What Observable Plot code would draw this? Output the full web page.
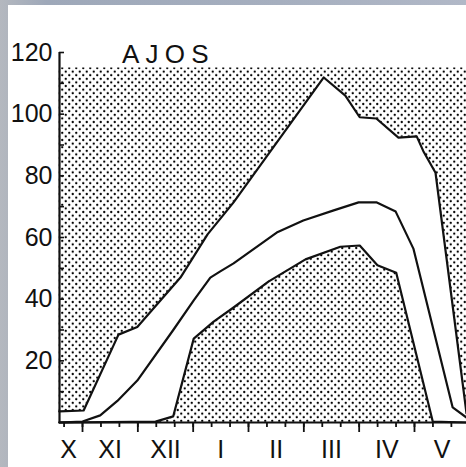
<!DOCTYPE html>
<html>
<head>
<meta charset="utf-8">
<script src="https://cdn.jsdelivr.net/npm/d3@7"></script>
<script src="https://cdn.jsdelivr.net/npm/@observablehq/plot@0.6"></script>
<style>
  html, body { margin: 0; padding: 0; }
  body {
    width: 466px; height: 467px; overflow: hidden; position: relative;
    background: linear-gradient(90deg, #b4b8bf 0%, #9ea8b9 10%, #a6afbf 60%, #b1b8c7 100%);
  }
  #card { position: absolute; left: 8px; top: 5px; width: 458px; height: 462px; background: #fff; }
  #title {
    position: absolute; left: 114px; top: 36px; line-height: 26px;
    font-family: "Liberation Sans", Arial, sans-serif; font-size: 26px; letter-spacing: 6.2px; color: #111;
  }
</style>
</head>
<body>
<div id="card"><div id="title">AJOS</div></div>
<script>
// x values are months counted from the start of October (X = 0)
const upperX = [0.58, 1.02, 1.65, 1.99, 2.77, 3.26, 3.73, 5.36, 5.75, 6.01, 6.31, 6.71, 7.04, 7.16, 7.38, 7.94];
const upperY = [3.6, 3.9, 28.5, 31, 47, 61, 71.4, 111.9, 106, 99, 98.6, 92.4, 92.8, 88, 81, 3];

const middleX = [0.58, 1.0, 1.32, 1.63, 1.99, 2.64, 3.01, 3.31, 3.49, 3.73, 4.51, 4.99, 5.54, 5.99, 6.31, 6.66, 6.98, 7.69, 7.94];
const middleY = [0, 0.3, 2.3, 7, 13.6, 30, 39.6, 47, 49, 51.6, 61.6, 65.5, 68.8, 71.4, 71.4, 68.4, 56.4, 4.9, 1.6];

const lowerX = [0.58, 2.32, 2.64, 3.01, 3.37, 3.73, 4.36, 5.03, 5.66, 6.01, 6.33, 6.67, 7.33, 7.94];
const lowerY = [0, 0.3, 2, 27.2, 32.7, 37.3, 45.7, 52.9, 57, 57.4, 51, 48.6, 0.3, 0];

const monthLabels = ["X", "XI", "XII", "I", "II", "III", "IV", "V"];
const monthLabelPos = [0.75, 1.5, 2.5, 3.5, 4.5, 5.5, 6.5, 7.5];
const yLabels = [20, 40, 60, 80, 100, 120];
const yTicks = [10, 20, 30, 40, 50, 60, 70, 80, 90, 100, 110, 120];
const xMinorTicks = d3.range(2, 24).map(k => k / 3);
const xMajorTicks = [1, 2, 3, 4, 5, 6, 7];
const stippleTop = 115;
const xDomain = [0.584, 7.94];

const upper = upperX.map((x, i) => ({x, y: upperY[i]}));
const middle = middleX.map((x, i) => ({x, y: middleY[i]}));
const lower = lowerX.map((x, i) => ({x, y: lowerY[i]}));
const labelMap = new Map(monthLabelPos.map((p, i) => [p, monthLabels[i]]));

const font = "'Liberation Sans', Arial, sans-serif";

const chart = Plot.plot({
  width: 458,
  height: 462,
  marginLeft: 51,
  marginRight: 0,
  marginTop: 47,
  marginBottom: 45,
  style: {fontFamily: font, fontSize: "25px", color: "#111", background: "transparent", overflow: "visible"},
  x: {domain: xDomain, axis: null},
  y: {domain: [0, 120], axis: null},
  marks: [
    Plot.areaY(upper, {x: "x", y1: "y", y2: stippleTop, fill: "url(#dots)", curve: "linear"}),
    Plot.areaY(lower, {x: "x", y: "y", fill: "url(#dots)", curve: "linear"}),
    Plot.line(upper, {x: "x", y: "y", stroke: "#111", strokeWidth: 2.2}),
    Plot.line(middle, {x: "x", y: "y", stroke: "#111", strokeWidth: 2.2}),
    Plot.line(lower, {x: "x", y: "y", stroke: "#111", strokeWidth: 2.2}),
    // axes
    Plot.ruleY([0], {stroke: "#111", strokeWidth: 2.2}),
    Plot.ruleX([xDomain[0]], {y1: 0, y2: 120, stroke: "#111", strokeWidth: 2.2}),
    Plot.axisY({ticks: yTicks, tickSize: 5, dx: 5, label: null, tickFormat: () => "", stroke: "#111", strokeWidth: 1.6}),
    Plot.axisY({ticks: yLabels, tickSize: 0, tickPadding: 7, label: null, fontSize: 25, fill: "#111"}),
    Plot.axisX({ticks: xMinorTicks, tickSize: 5, label: null, tickFormat: () => "", stroke: "#111", strokeWidth: 1.8}),
    Plot.axisX({ticks: xMajorTicks, tickSize: 10, label: null, tickFormat: () => "", stroke: "#111", strokeWidth: 1.8}),
    Plot.axisX({ticks: monthLabelPos, tickSize: 0, tickPadding: 18, label: null, fontSize: 25, fill: "#111", tickFormat: d => labelMap.get(d)})
  ]
});

// stipple pattern definition
const svg = d3.select(chart);
const defs = svg.insert("defs", ":first-child");
const pat = defs.append("pattern")
  .attr("id", "dots")
  .attr("patternUnits", "userSpaceOnUse")
  .attr("width", 7)
  .attr("height", 7.2);
pat.append("rect").attr("width", 7).attr("height", 7.2).attr("fill", "#fff");
pat.append("circle").attr("cx", 1.75).attr("cy", 1.8).attr("r", 1.15).attr("fill", "#000");
pat.append("circle").attr("cx", 5.25).attr("cy", 5.4).attr("r", 1.15).attr("fill", "#000");

document.getElementById("card").appendChild(chart);
</script>
</body>
</html>
